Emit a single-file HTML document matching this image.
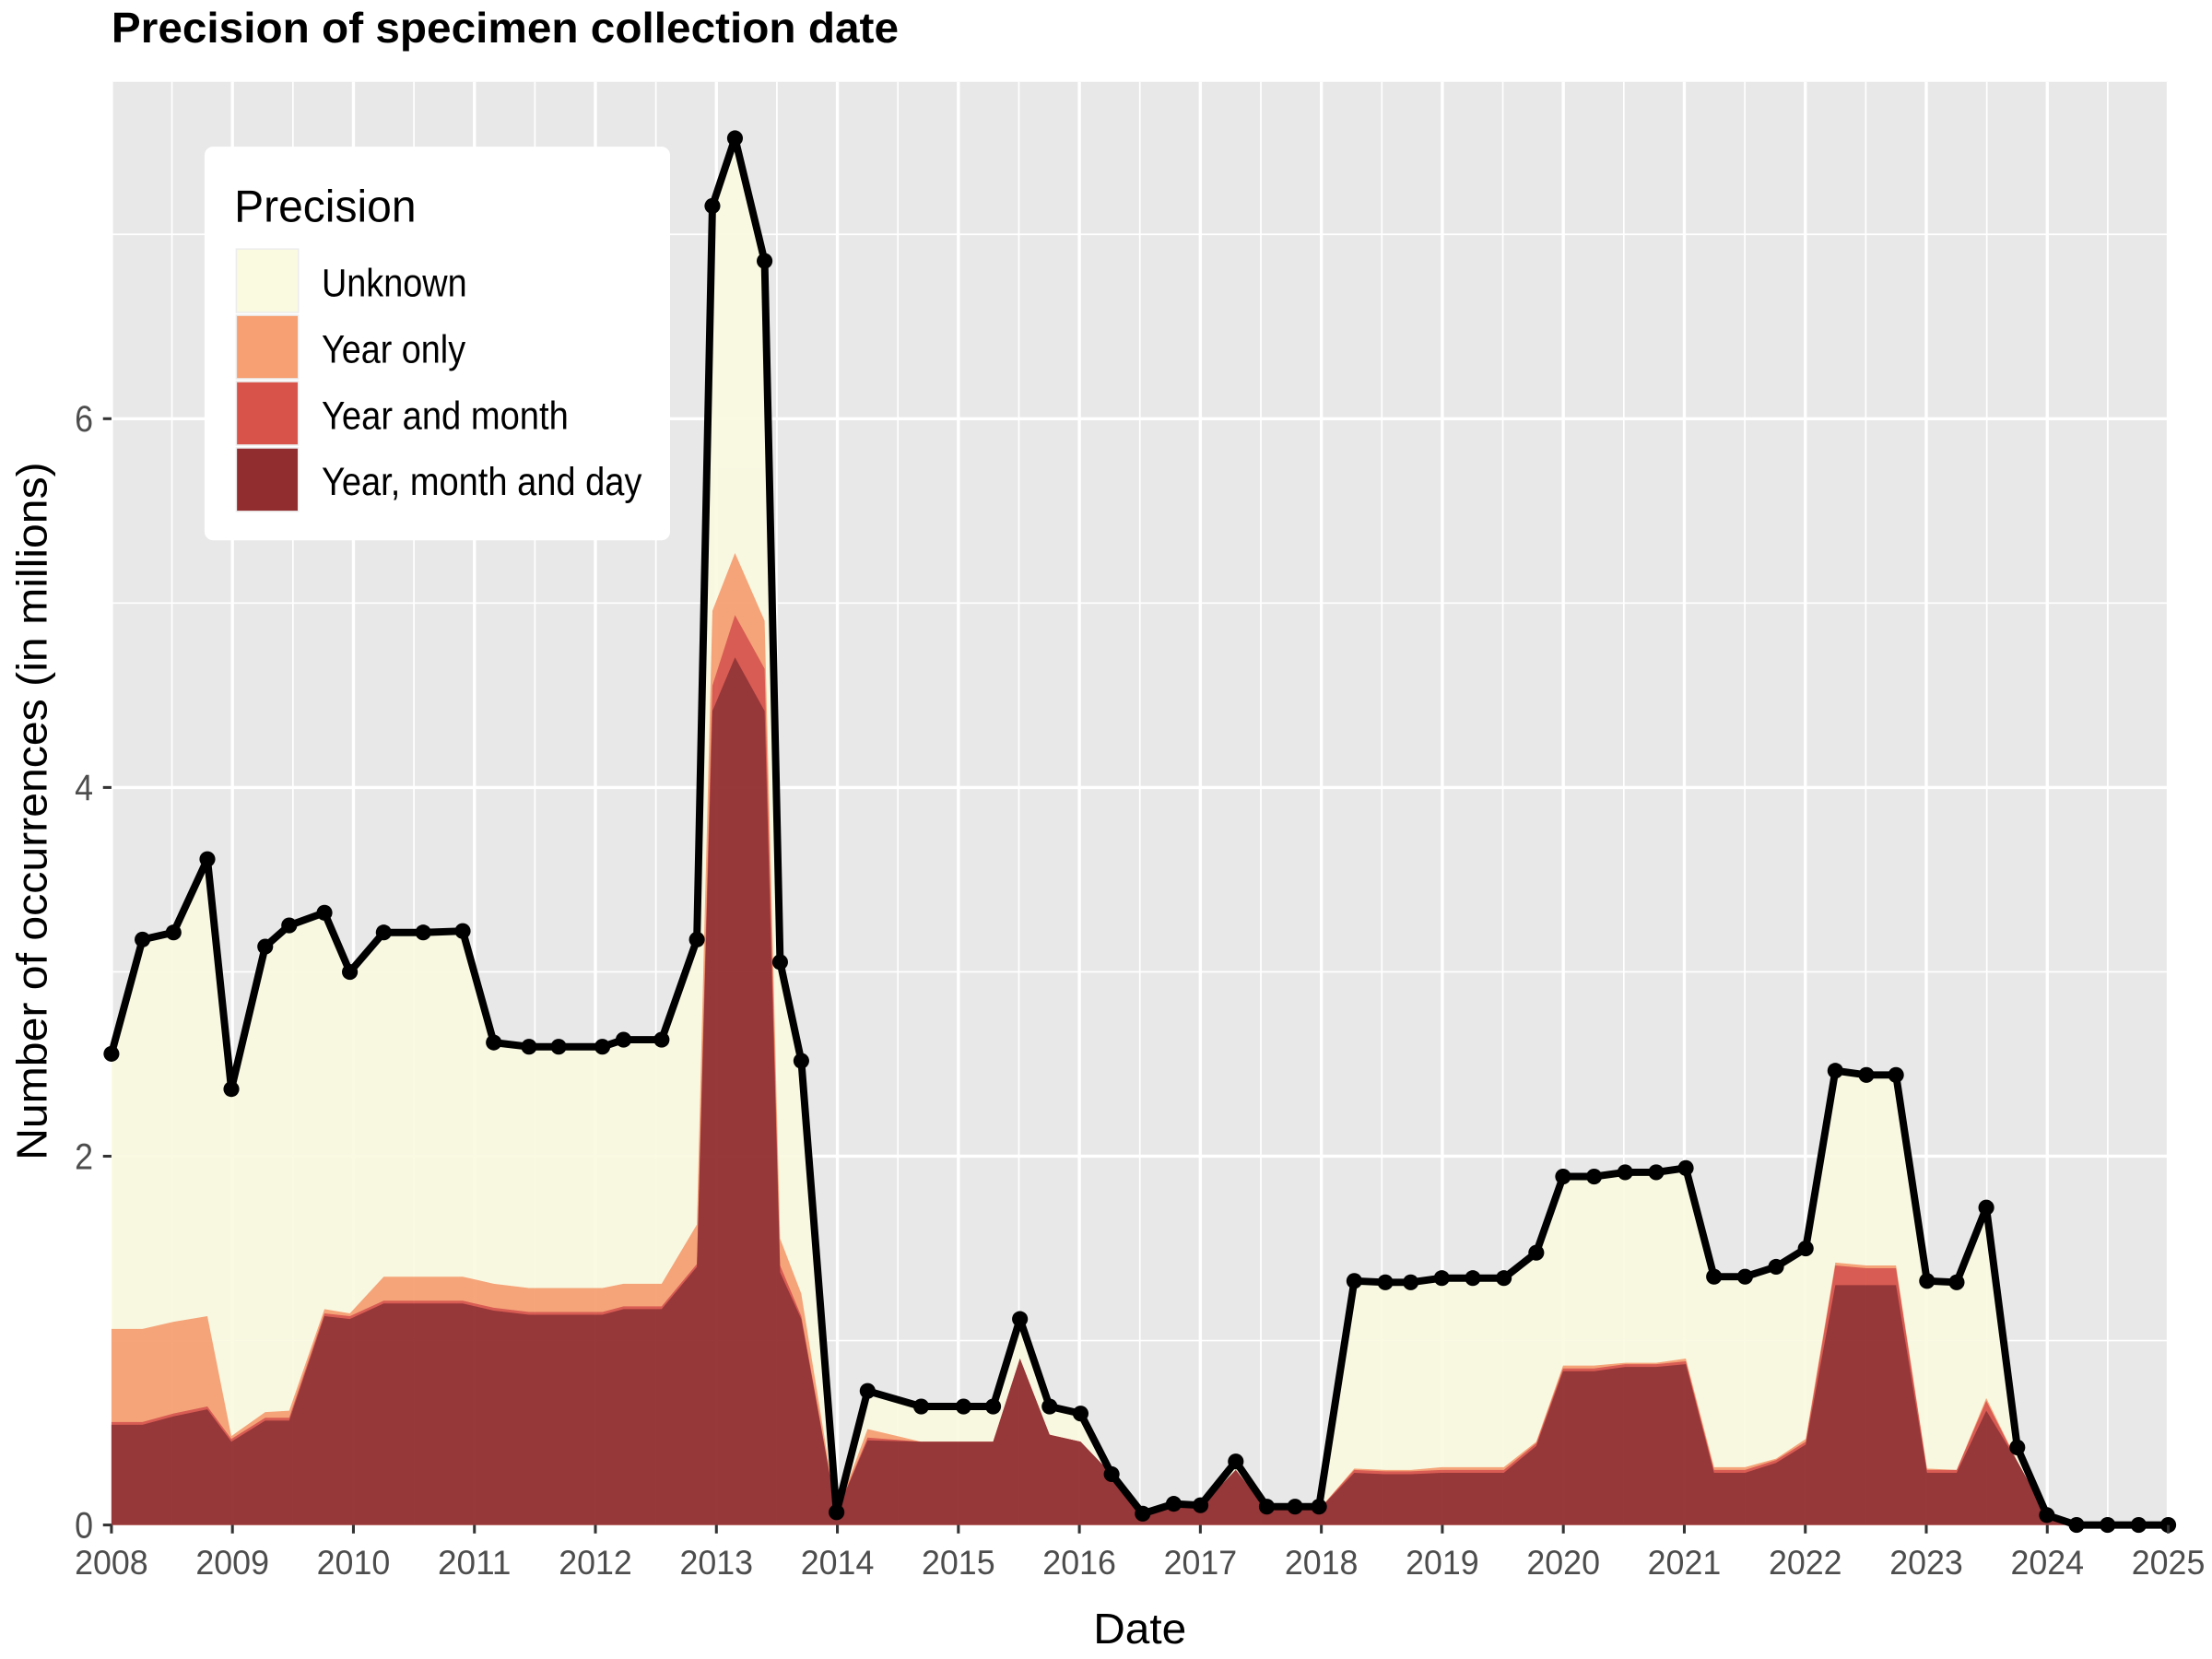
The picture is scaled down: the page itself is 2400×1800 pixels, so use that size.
<!DOCTYPE html>
<html><head><meta charset="utf-8"><style>html,body{margin:0;padding:0;background:#fff}svg{display:block}</style></head>
<body>
<svg id="s" width="2400" height="1800" viewBox="0 0 1568 1176" xmlns="http://www.w3.org/2000/svg" font-family="Liberation Sans, sans-serif">
<rect x="0" y="0" width="1568" height="1176" fill="#fff"/>
<rect x="79" y="58" width="1458" height="1023" fill="#e8e8e8"/>
<g id="grid"></g>
<g id="areas" opacity="0.94"></g>
<g id="line"></g>
<g id="ticks" stroke="#333" stroke-width="2"></g>
<g fill="#4d4d4d" font-size="24" id="labels"></g>
<text x="79" y="30" font-size="30" font-weight="bold" textLength="558" lengthAdjust="spacingAndGlyphs">Precision of specimen collection date</text>
<text x="808" y="1165" font-size="30" text-anchor="middle" textLength="66" lengthAdjust="spacingAndGlyphs">Date</text>
<text transform="translate(33,575) rotate(-90)" font-size="30" text-anchor="middle" textLength="495" lengthAdjust="spacingAndGlyphs">Number of occurrences (in millions)</text>
<rect x="145" y="104" width="330" height="279" rx="6" fill="#fff"/>
<text x="166" y="157" font-size="32" textLength="129" lengthAdjust="spacingAndGlyphs">Precision</text>
<rect x="167" y="176" width="45" height="46" fill="#ececec"/>
<rect x="168" y="177" width="43" height="44" fill="#fafae1"/>
<rect x="167" y="223" width="45" height="46" fill="#ececec"/>
<rect x="168" y="224" width="43" height="44" fill="#f6a073"/>
<rect x="167" y="270" width="45" height="46" fill="#ececec"/>
<rect x="168" y="271" width="43" height="44" fill="#d8544a"/>
<rect x="167" y="317" width="45" height="46" fill="#ececec"/>
<rect x="168" y="318" width="43" height="44" fill="#912d2f"/>
<g font-size="28">
<text x="228" y="210" textLength="103" lengthAdjust="spacingAndGlyphs">Unknown</text>
<text x="228" y="257" textLength="102" lengthAdjust="spacingAndGlyphs">Year only</text>
<text x="228" y="304" textLength="175" lengthAdjust="spacingAndGlyphs">Year and month</text>
<text x="228" y="351" textLength="227" lengthAdjust="spacingAndGlyphs">Year, month and day</text>
</g>
</svg>
<script>
var NS="http://www.w3.org/2000/svg";
function el(p,t,a){var e=document.createElementNS(NS,t);for(var k in a)e.setAttribute(k,a[k]);document.getElementById(p).appendChild(e);return e;}
var X0=79,YW=(1537-79)/17,Y0=1081,U=130.7;
for(var i=0;i<=34;i++){var x=X0+i*YW/2;el("grid","line",{x1:x,x2:x,y1:58,y2:1081,stroke:"#fff","stroke-width":i%2?1.1:2.2});}
for(var j=0;j<=7;j++){var y=Y0-j*U;el("grid","line",{x1:79,x2:1537,y1:y,y2:y,stroke:"#fff","stroke-width":j%2?1.1:2.2});}
for(var i=0;i<=17;i++){var x=X0+i*YW;el("ticks","line",{x1:x,x2:x,y1:1081,y2:1087});var t=el("labels","text",{x:x,y:1116,"text-anchor":"middle",textLength:52,lengthAdjust:"spacingAndGlyphs"});t.textContent=String(2008+i);}
for(var j=0;j<=6;j+=2){var y=Y0-j*U;el("ticks","line",{x1:73,x2:79,y1:y,y2:y});var t=el("labels","text",{x:66,y:y+9,"text-anchor":"end","font-size":26,textLength:13,lengthAdjust:"spacingAndGlyphs"});t.textContent=String(j);}
var xs=[79,101,123,147,164,188,205,230,248,272,300,328,350,375,396,427,442,469,494,505,521,542,553,568,593,615,653,683,704,723,744,766,788,810,832,851,876,898,918,935,960,982,1000,1022,1044,1066,1089,1108,1130,1152,1174,1195,1215,1237,1259,1280,1301,1323,1344,1366,1387,1408,1430,1451,1472,1494,1516,1537];
var tot=[747,666,661,609,772,671,656,647,689,661,661,660,739,742,742,742,737,737,666,146,98,185,682,752,1072,986,997,997,997,935,997,1002,1045,1073,1066,1067,1036,1068,1068,1068,908,909,909,906,906,906,888,834,834,831,831,828,905,905,898,885,759,762,762,908,909,856,1026,1074,1081,1081,1081,1081];
var org=[942,942,937,933,1018,1001,1000,928,931,905,905,905,910,913,913,913,910,910,868,433,392,440,878,917,1072,1013,1022,1022,1022,963,1017,1022,1045,1073,1068,1068,1042,1070,1070,1070,1041,1042,1042,1040,1040,1040,1022,968,968,966,966,963,1040,1040,1034,1020,895,897,897,1041,1042,991,1036,1074,1081,1081,1081,1081];
var dk=[1010,1010,1004,999,1022,1007,1007,933,935,924,924,924,929,932,932,932,928,928,898,504,466,504,902,935,1072,1021,1022,1022,1022,963,1017,1022,1045,1073,1068,1068,1042,1070,1070,1070,1044,1045,1045,1044,1044,1044,1025,972,972,969,969,967,1044,1044,1037,1024,911,911,911,1044,1044,1000,1036,1074,1081,1081,1081,1081];
var red=dk.map(function(v,i){return Math.max(org[i],v-2);});
var ov={505:486,521:436,542:474,553:897,1301:897,1323:899,1344:899,1408:993};
xs.forEach(function(x,i){if(ov[x])red[i]=ov[x];});
function poly(ys,c){var p=xs.map(function(x,i){return x+","+ys[i];}).join(" ");p+=" 1537,1081 79,1081";el("areas","polygon",{points:p,fill:c});}
poly(tot,"#fafae1");poly(org,"#f6a073");poly(red,"#d8544a");poly(dk,"#912d2f");
el("line","polyline",{points:xs.map(function(x,i){return x+","+tot[i];}).join(" "),fill:"none",stroke:"#000","stroke-width":5.2,"stroke-linejoin":"round"});
xs.forEach(function(x,i){el("line","circle",{cx:x,cy:tot[i],r:5.6,fill:"#000"});});
</script>
</body></html>
